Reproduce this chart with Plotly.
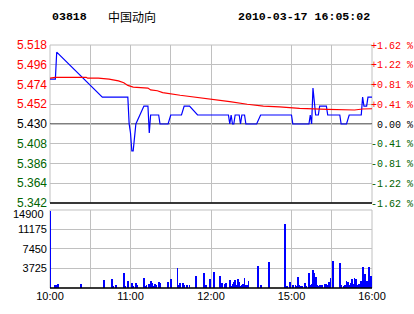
import plotly.graph_objects as go

# ---------------- data ----------------
STOCK_CODE = "03818"
STOCK_NAME = "中国动向"
TIMESTAMP = "2010-03-17 16:05:02"
PREV_CLOSE = 5.430

price_ticks = [5.342, 5.364, 5.386, 5.408, 5.430, 5.452, 5.474, 5.496, 5.518]
pct_labels = ["-1.62 %", "-1.22 %", "-0.81 %", "-0.41 %", "\u00a00.00 %",
              "+0.41 %", "+0.81 %", "+1.22 %", "+1.62 %"]
vol_ticks = [0, 3725, 7450, 11175, 14900]
time_ticks = ["10:00", "10:30", "11:00", "11:30", "12:00", "15:00", "15:30", "16:00"]
time_labels = ["10:00", "", "11:00", "", "12:00", "15:00", "", "16:00"]

price_times = ["10:00", "10:04", "10:05", "10:39", "10:58", "10:59", "11:00", "11:01",
               "11:02", "11:03", "11:04", "11:10", "11:13", "11:14", "11:15", "11:21",
               "11:22", "11:28", "11:30", "11:38", "11:40", "11:44", "11:50", "12:13",
               "12:14", "12:15", "12:16", "12:17", "12:18", "12:21", "12:22", "12:23",
               "12:25", "12:26", "12:30", "14:34", "14:37", "15:00", "15:01", "15:13",
               "15:14", "15:15", "15:16", "15:17", "15:18", "15:20", "15:21", "15:26",
               "15:27", "15:36", "15:37", "15:41", "15:43", "15:52", "15:53", "15:54",
               "15:56", "15:57", "16:00"]
price_values = [5.48, 5.48, 5.51, 5.46, 5.46, 5.43, 5.42, 5.40,
                5.40, 5.42, 5.43, 5.45, 5.45, 5.42, 5.44, 5.44,
                5.43, 5.43, 5.44, 5.44, 5.45, 5.45, 5.44, 5.44,
                5.43, 5.44, 5.43, 5.43, 5.44, 5.44, 5.43, 5.44,
                5.44, 5.43, 5.43, 5.43, 5.44, 5.44, 5.43, 5.43,
                5.44, 5.43, 5.47, 5.45, 5.44, 5.44, 5.45, 5.45,
                5.44, 5.44, 5.43, 5.43, 5.44, 5.44, 5.46, 5.45,
                5.45, 5.46, 5.46]

avg_times = ["10:00", "10:04", "10:27", "10:28", "10:36", "10:44", "10:51", "10:55",
             "10:58", "11:02", "11:13", "11:15", "11:20", "11:24", "11:37", "11:49",
             "12:02", "12:14", "12:27", "14:39", "14:51", "15:06", "15:27", "15:47",
             "15:53", "16:00"]
avg_values = [5.481, 5.482, 5.482, 5.481, 5.481, 5.480, 5.478, 5.476,
              5.473, 5.471, 5.470, 5.468, 5.467, 5.465, 5.462, 5.460,
              5.457, 5.455, 5.452, 5.450, 5.449, 5.4475, 5.4464, 5.4456,
              5.4467, 5.447]

vol_times = ["10:00", "10:04", "10:05", "10:06", "10:23", "10:40", "10:46", "10:47",
             "10:49", "10:55", "10:56", "10:58", "11:01", "11:02", "11:04", "11:05",
             "11:10", "11:11", "11:12", "11:14", "11:15", "11:16", "11:17", "11:18",
             "11:19", "11:21", "11:22", "11:28", "11:30", "11:35", "11:36", "11:37",
             "11:39", "11:40", "11:42", "11:44", "11:49", "11:55", "11:56", "11:59",
             "12:02", "12:07", "12:08", "12:10", "12:11", "12:14", "12:15", "12:16",
             "12:17", "12:18", "12:19", "12:20", "12:21", "12:22", "12:23", "12:24",
             "12:25", "12:26", "12:27", "12:28", "14:35", "14:37", "14:43", "14:55",
             "14:56", "14:57", "14:59", "15:01", "15:03", "15:04", "15:05", "15:06",
             "15:07", "15:08", "15:10", "15:11", "15:13", "15:14", "15:15", "15:16",
             "15:17", "15:18", "15:19", "15:20", "15:21", "15:22", "15:23", "15:25",
             "15:26", "15:27", "15:28", "15:29", "15:31", "15:36", "15:37", "15:39",
             "15:40", "15:41", "15:42", "15:43", "15:44", "15:45", "15:46", "15:47",
             "15:48", "15:49", "15:50", "15:51", "15:52", "15:53", "15:54", "15:55",
             "15:56", "15:57", "15:58", "15:59", "16:00"]
vol_values = [14700, 630, 500, 820, 820, 1580, 1770, 440,
              630, 2900, 440, 1390, 1010, 440, 880, 630,
              1960, 440, 500, 690, 1390, 880, 440, 820,
              500, 1200, 1010, 1200, 1770, 3850, 630, 1010,
              1010, 630, 630, 630, 2330, 2900, 630, 1770,
              3090, 2330, 1010, 820, 1010, 1580, 440, 820,
              1200, 1580, 630, 1770, 1200, 440, 630, 820,
              1960, 630, 630, 1390, 4230, 630, 4980, 12180,
              440, 440, 1200, 630, 630, 440, 2140, 630,
              440, 440, 1010, 440, 2900, 630, 820, 3470,
              2900, 2140, 630, 440, 630, 630, 630, 820,
              820, 630, 1200, 1960, 5170, 4800, 630, 440,
              630, 1390, 1200, 630, 1010, 1770, 820, 1960,
              1770, 630, 820, 820, 1390, 4040, 630, 2710,
              1390, 1200, 4040, 2330, 1960]


def trade_minute(t):
    """Convert HH:MM to minutes of trading (10:00-12:30, 14:30-16:00)."""
    h, m = map(int, t.split(":"))
    mm = h * 60 + m
    return mm - 600 if mm <= 750 else mm - 870 + 150


RED = "#ff0000"
GREEN = "#006400"
GRID = "#c0c0c0"


def price_color(p):
    if p > PREV_CLOSE + 1e-9:
        return RED
    if p < PREV_CLOSE - 1e-9:
        return GREEN
    return "#000000"


left_text = ['<span style="color:%s">%.3f</span>' % (price_color(p), p) for p in price_ticks]
right_text = ['<span style="color:%s">%s</span>' % (price_color(p), s)
              for p, s in zip(price_ticks, pct_labels)]

fig = go.Figure()
fig.add_trace(go.Scatter(x=[trade_minute(t) for t in price_times], y=price_values,
                         mode="lines", line=dict(color="#0000ff", width=1.2),
                         xaxis="x", yaxis="y", hoverinfo="skip"))
fig.add_trace(go.Scatter(x=[trade_minute(t) for t in avg_times], y=avg_values,
                         mode="lines", line=dict(color=RED, width=1.2),
                         xaxis="x", yaxis="y", hoverinfo="skip"))
fig.add_trace(go.Bar(x=[trade_minute(t) for t in vol_times], y=vol_values,
                     width=0.6, marker=dict(color="#0000ff", line=dict(width=0)),
                     xaxis="x2", yaxis="y2", hoverinfo="skip"))
# invisible trace to activate the right-hand percent axis
fig.add_trace(go.Scatter(x=[trade_minute(time_ticks[0])], y=[PREV_CLOSE], mode="markers",
                         marker=dict(opacity=0), xaxis="x", yaxis="y3", hoverinfo="skip"))

xt = [trade_minute(t) for t in time_ticks]
xr = [trade_minute("10:00"), trade_minute("16:00")]
common_x = dict(range=xr, tickmode="array", tickvals=xt, showgrid=True, gridcolor=GRID,
                gridwidth=1, zeroline=False, showline=False, ticks="", fixedrange=True,
                automargin=False)
vol_font = dict(family="Liberation Sans", size=11, color="#000000")

fig.update_layout(
    width=414, height=314,
    margin=dict(l=50, r=42, t=45, b=26, autoexpand=False),
    paper_bgcolor="white", plot_bgcolor="white",
    showlegend=False, bargap=0,
    xaxis=dict(**common_x, domain=[0, 1], anchor="y", showticklabels=False),
    xaxis2=dict(**common_x, domain=[0, 1], anchor="y2", ticktext=time_labels,
                showticklabels=True,
                tickfont=dict(family="Liberation Sans", size=11, color="#000000")),
    yaxis=dict(domain=[0.3498, 1], range=[price_ticks[0], price_ticks[-1]],
               tickmode="array", tickvals=price_ticks, ticktext=left_text,
               showgrid=True, gridcolor=GRID, zeroline=False, showline=False, ticks="",
               ticklabelstandoff=2, automargin=False,
               tickfont=dict(family="Liberation Sans", size=12), anchor="x"),
    yaxis3=dict(overlaying="y", side="right", range=[price_ticks[0], price_ticks[-1]],
                tickmode="array", tickvals=price_ticks, ticktext=right_text,
                showgrid=False, zeroline=False, showline=False, ticks="",
                ticklabelstandoff=-2, automargin=False,
                tickfont=dict(family="Liberation Mono", size=10), anchor="x"),
    yaxis2=dict(domain=[0, 0.321], range=[vol_ticks[0], vol_ticks[-1]],
                tickmode="array", tickvals=vol_ticks,
                ticktext=[""] + [str(v) for v in vol_ticks[1:-1]] + [""],
                showgrid=True, gridcolor=GRID, zeroline=False, showline=False, ticks="",
                ticklabelstandoff=2, automargin=False,
                tickfont=vol_font, anchor="x2"),
)

shapes = [
    # panel frames
    dict(type="rect", xref="x domain", yref="y domain", x0=0, x1=1, y0=0, y1=1,
         line=dict(color=GRID, width=1), layer="below"),
    dict(type="rect", xref="x2 domain", yref="y2 domain", x0=0, x1=1, y0=0, y1=1,
         line=dict(color=GRID, width=1), layer="below"),
    # previous close line
    dict(type="line", xref="x domain", yref="y", x0=0, x1=1, y0=PREV_CLOSE, y1=PREV_CLOSE,
         line=dict(color="#000000", width=1.2), layer="below"),
    # panel bottoms
    dict(type="line", xref="x domain", yref="y domain", x0=0, x1=1, y0=0, y1=0,
         line=dict(color="#000000", width=1.5)),
    dict(type="line", xref="x2 domain", yref="y2 domain", x0=0, x1=1, y0=0, y1=0,
         line=dict(color="#000000", width=1.5)),
]
fig.update_layout(shapes=shapes)

# top volume label sits just below its gridline, as in the original
fig.add_annotation(text=str(vol_ticks[-1]), xref="paper", yref="y2", x=0, y=vol_ticks[-1],
                   xanchor="right", yanchor="middle", xshift=-4, yshift=-4,
                   showarrow=False, font=vol_font)

hdr_font = dict(family="Liberation Mono", size=11.6, color="#000000")
fig.add_annotation(text="<b>%s</b>" % STOCK_CODE, xref="paper", yref="paper",
                   x=0, y=1, yshift=29, xanchor="left", yanchor="middle",
                   showarrow=False, font=hdr_font)
fig.add_annotation(text=STOCK_NAME, xref="paper", yref="paper",
                   x=56 / 322, y=1, yshift=29, xanchor="left", yanchor="middle",
                   showarrow=False, font=dict(family="Noto Sans CJK SC", size=12, color="#000000"))
fig.add_annotation(text="<b>%s</b>" % TIMESTAMP, xref="paper", yref="paper",
                   x=1, y=1, yshift=29, xanchor="right", yanchor="middle",
                   showarrow=False, font=hdr_font)

fig.write_html("out.html")
